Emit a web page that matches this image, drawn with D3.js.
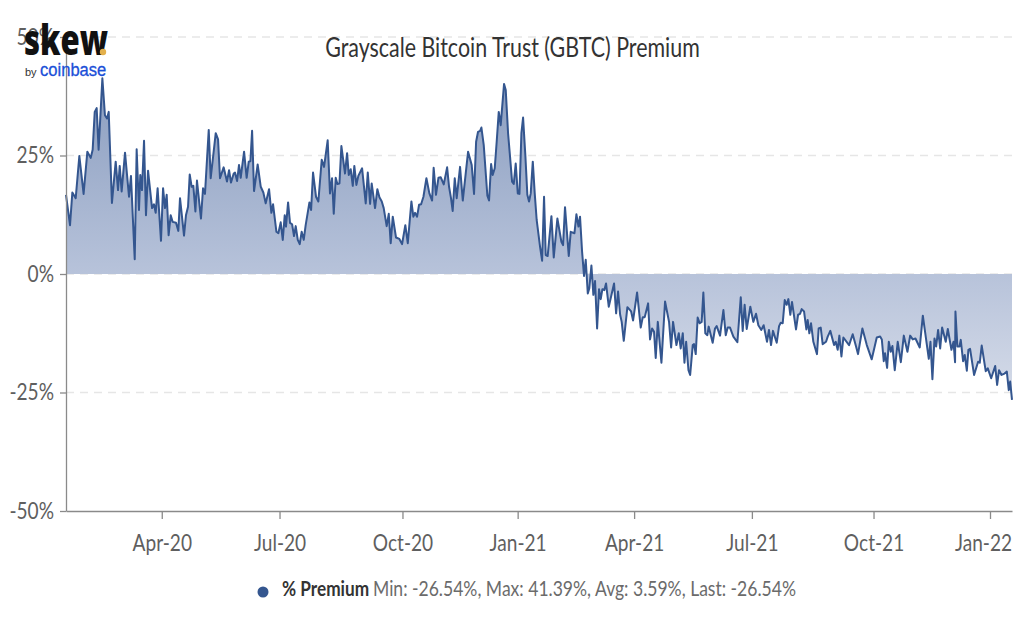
<!DOCTYPE html>
<html>
<head>
<meta charset="utf-8">
<script src="https://cdn.jsdelivr.net/npm/d3@7"></script>
<style>
  html, body { margin: 0; padding: 0; background: #fff; }
  svg { display: block; }
  text { font-family: Lato, sans-serif; }
</style>
</head>
<body>
<div id="chart"></div>
<script>
var svgWidth = 1024;
var svgHeight = 628;

var margin = { top: 37, right: 12, bottom: 117, left: 66 };

var width = svgWidth - margin.left - margin.right;
var height = svgHeight - margin.top - margin.bottom;

var startDate = "2020-01-18";
var endDate = "2022-01-18";

// days since startDate
var premiumDays = [
  0, 3.1, 4.9, 7.5, 10.3, 13.6, 16.5, 19.1, 20.6, 22.2, 23.7, 25.2, 28.1, 30.1, 31.7, 33, 35.5, 38.4, 40.2, 41.5,
  43, 45.6, 48.7, 50.2, 53.1, 54.6, 56.4, 57.4, 58.7, 60.3, 61.8, 63.4, 66.5, 68, 69.3, 70.8, 73.4, 75, 76.5, 77.8,
  79.3, 80.9, 82.4, 85, 86.8, 88.1, 91.2, 92.7, 94.3, 95.6, 97.1, 98.4, 100, 101.2, 104.3, 105.9, 107.4, 110.3, 111.8, 115.7,
  117.5, 119, 121.8, 124.4, 126, 127.5, 129.6, 130.6, 132.2, 133.7, 135, 137.6, 139.6, 141.2, 142.5, 143.8, 145.3, 148.1, 150.5, 152.5,
  154.3, 156.9, 158.7, 160, 162.6, 164.1, 165.9, 167.5, 169, 170, 171.6, 173.1, 174.7, 176.2, 177.5, 179.1, 180.6, 182.1, 183.7, 185.2,
  188.1, 189.4, 190.9, 193.2, 195, 197.6, 199.4, 202.2, 204, 205.6, 206.9, 208.4, 209.7, 211.3, 212.8, 215.6, 217.2, 218.5, 220, 221.6,
  222.8, 224.4, 225.9, 228.8, 231.6, 233.2, 235, 236.2, 238.8, 240.6, 242.2, 244, 245.5, 247.8, 249.4, 250.9, 252.5, 255, 257.6, 259.7,
  262.2, 264.1, 266.9, 268.4, 269.7, 271.3, 272.8, 274.4, 276.2, 278.5, 280.8, 282.9, 284.1, 285.9, 287.8, 289.6, 291.9, 294.5, 296, 297.5,
  298.8, 300.4, 301.9, 304.5, 306.6, 310.7, 313.5, 315.3, 316.9, 318.4, 320, 321, 322.8, 325.6, 326.9, 328.5, 329.7, 331.3, 332.8, 334.4,
  335.9, 338.5, 339.8, 341.6, 343.1, 344.7, 346, 347.5, 349.1, 350.4, 351.9, 353.2, 355, 356.5, 357.8, 359.1, 360.7, 362.2, 363.7, 366.3,
  367.9, 369.4, 370.7, 372.2, 375.1, 376.9, 379.7, 382.8, 384.1, 385.6, 388.5, 390, 392.9, 394.4, 396, 397.2, 398.8, 400.3, 401.6, 403.2,
  404.4, 406, 407.5, 408.8, 410.4, 411.9, 413.2, 414.5, 416, 417.3, 419.4, 423.5, 425.1, 426.6, 428.2, 429.4, 431, 433.8, 436.7, 438.2,
  441.3, 444.1, 445.7, 447.2, 449.8, 451.3, 452.9, 454.4, 455.7, 457.3, 460.1, 462.9, 466, 467.6, 469.1, 471.7, 473.5, 475, 476.6, 477.9,
  479.2, 481, 482.3, 484.3, 485.3, 486.6, 488.1, 489.7, 491.2, 492.5, 494, 495.6, 496.6, 499.7, 501.5, 502.8, 505.4, 508, 509.8, 511.3,
  513.1, 515.7, 518.8, 521.4, 522.9, 524.4, 526, 528.8, 531.1, 533.2, 535, 537.3, 539.1, 541.7, 543.2, 544.8, 546.3, 549.2, 551, 552.3,
  553.8, 555.4, 556.9, 558.2, 559.7, 561, 564.1, 565.7, 567.2, 568.5, 570.3, 572.1, 573.1, 574.4, 575.7, 577.5, 580.3, 581.6, 583.2, 584.7,
  587.3, 588.6, 590.6, 593.5, 594.8, 596.3, 597.6, 599.2, 600.7, 605.1, 607.9, 610.5, 612, 615.4, 618.8, 622.6, 626.5, 629.1, 630.4, 631.9,
  632.9, 634.5, 635.8, 637.3, 638.6, 640.4, 642.7, 645.1, 647.4, 650.2, 652.3, 654.3, 656.4, 659.7, 662.1, 666.7, 668, 669.5, 671.1, 672.4,
  673.9, 675.5, 677, 679.8, 681.4, 684.2, 685.8, 687, 687.3, 688.8, 690.4, 691.4, 693.2, 694.5, 696.1, 697.3, 698.6, 701.7, 704.8, 706.1,
  707.6, 710.7, 712.3, 714.9, 718, 719.5, 721, 722.9, 725.2, 727, 728.5, 729.6, 731
];

// % premium at each of those days
var premiumValues = [
  16.7, 10.3, 17.2, 16, 24.9, 16.9, 25.8, 24.5, 26.2, 34.2, 35, 26.2, 41.3, 33.5, 32.8, 34.2, 15, 23.7, 17.7, 22.8,
  17.4, 25.6, 16.3, 20.7, 3.1, 26.3, 13.5, 20.9, 17.7, 28.1, 12.4, 21.8, 13.9, 14.7, 12.9, 18.1, 7, 18.1, 13.9, 16.7,
  8.2, 12.4, 11, 10.8, 9.1, 16, 8.1, 12.4, 14.2, 21, 18.4, 18.6, 13.2, 19.7, 11.7, 18.1, 16.9, 30.4, 20.2, 29.7,
  28.4, 20.2, 22.5, 19.5, 21.9, 19.3, 21.2, 21.4, 19.6, 23, 20.3, 25.8, 20.3, 23.7, 23.8, 30.2, 17.5, 23.1, 18.4, 17.2,
  14.9, 17.9, 12.9, 14.7, 8.9, 8.6, 10.9, 7.2, 12.4, 10, 15.1, 10.8, 10.5, 8, 10.1, 7.2, 6.3, 8.9, 7.2, 10.3,
  15.1, 13.5, 21.4, 16.3, 15.3, 24.1, 22.6, 28.2, 17, 20.2, 12.7, 20.3, 19, 19.1, 27, 21.2, 25.5, 20.9, 22.1, 18.6,
  22.8, 18.8, 20.7, 22.3, 14.9, 21.4, 14.8, 19.1, 13.9, 17.9, 16.2, 15.3, 13.9, 10.1, 12.7, 6.5, 12.1, 7.7, 7.4, 6.3,
  10.3, 6.5, 15.3, 12.1, 12.9, 12.1, 14.6, 14.7, 16.3, 20.2, 17, 15.5, 22.4, 16.7, 20.3, 20.4, 18.9, 22.5, 18.4, 16,
  13.3, 20.2, 16, 22.6, 15.5, 25.8, 23, 16.9, 27.9, 30, 30.2, 30.9, 27.2, 16.5, 15.5, 23.2, 20.9, 22.3, 27.9, 34.2,
  31.4, 40.1, 38.8, 29.7, 24.8, 19.5, 19, 23.3, 17, 16.9, 29.7, 33, 24.8, 16.7, 15.3, 17, 23.7, 17, 11.4, 5.8,
  2.8, 16.3, 4, 3.8, 12.2, 3.5, 11.7, 6.8, 6.1, 14.1, 3.8, 8.9, 8.6, 12.6, 10, 12.1, 4.7, -0.4, 3, -4.1,
  -3, 1.8, -4.4, -1.5, -11.5, -3.2, -5.3, -3.2, -3.4, -2, -6.9, -2, -8.3, -3.7, -8.6, -10.1, -14.1, -7, -7.9, -9.8,
  -3.9, -11.3, -9.1, -9.1, -6.2, -13.8, -11.5, -12.2, -17.7, -10.1, -18.7, -5.8, -10.1, -15.5, -10.1, -15, -12.5, -15.7, -12.5, -18.7,
  -14.3, -20.3, -21.3, -15, -14.8, -16.9, -9.2, -10.4, -10.1, -3.9, -12.5, -12.9, -11.1, -14.5, -11.5, -11, -13, -7.6, -12.9, -11.3,
  -11.3, -13.2, -14.4, -4.9, -12, -6.5, -11.6, -6.9, -10.1, -8.4, -10.8, -11.8, -10.8, -14.3, -11.8, -15, -12, -14.5, -11, -10.3,
  -10.4, -5.5, -6.5, -5.3, -8.6, -5.9, -11.7, -8.6, -8.4, -7.4, -7.9, -11.7, -9.7, -12.5, -10.4, -14.3, -16.9, -11.5, -11.3, -14.8,
  -14.3, -13.2, -12, -15, -14.3, -16, -13, -17.4, -13.4, -15, -12.7, -15.3, -16.9, -11.5, -15, -18, -13.4, -13.2, -13.8, -18.4,
  -16.7, -19.8, -14.3, -16.4, -15.2, -20.3, -14.3, -18.6, -13, -16.4, -13, -13.8, -13.6, -15.5, -8.8, -17.9, -14.3, -22.2, -13.6, -15.3,
  -11.8, -15.7, -11.3, -14.3, -11.6, -16, -14.3, -18.6, -7.9, -15.3, -15.3, -13.9, -18.4, -17.1, -20.4, -16, -15.8, -21.3, -18.5, -18.7,
  -15.1, -20.5, -19.9, -22, -19.4, -23.4, -20.3, -21.3, -21, -20.6, -24.5, -22.7, -26.54
];

var yTicks = [-50, -25, 0, 25, 50];
var xTickDates = ["2020-04-01", "2020-07-01", "2020-10-04", "2021-01-01", "2021-04-01", "2021-07-01", "2021-10-03", "2022-01-01"];
var xTickLabels = ["Apr-20", "Jul-20", "Oct-20", "Jan-21", "Apr-21", "Jul-21", "Oct-21", "Jan-22"];

var chartTitle = "Grayscale Bitcoin Trust (GBTC) Premium";
var legendName = "% Premium";
var legendStats = "Min: -26.54%, Max: 41.39%, Avg: 3.59%, Last: -26.54%";

var lineColor = "#34568f";

var svg = d3.select("#chart")
  .append("svg")
  .attr("width", svgWidth)
  .attr("height", svgHeight);

// the reference is squeezed sideways, so text gets narrowed to match
function squeeze(selection, factor) {
  selection.each(function() {
    d3.select(this)
      .attr("textLength", this.getComputedTextLength() * factor)
      .attr("lengthAdjust", "spacingAndGlyphs");
  });
}

var parseDate = d3.utcParse("%Y-%m-%d");

function dayToDate(d) {
  return new Date(parseDate(startDate).getTime() + d * 864e5);
}

var xScale = d3.scaleUtc()
  .domain([parseDate(startDate), parseDate(endDate)])
  .range([0, width]);

var yScale = d3.scaleLinear()
  .domain([-50, 50])
  .range([height, 0]);

var defs = svg.append("defs");
var gradient = defs.append("linearGradient")
  .attr("id", "premiumFill")
  .attr("gradientUnits", "userSpaceOnUse")
  .attr("x1", 0).attr("x2", 0)
  .attr("y1", yScale(42)).attr("y2", yScale(-27));
gradient.append("stop").attr("offset", "0%").attr("stop-color", "#8a9dbf");
gradient.append("stop").attr("offset", "58%").attr("stop-color", "#b5c1d9");
gradient.append("stop").attr("offset", "100%").attr("stop-color", "#d6dce9");

var chartGroup = svg.append("g")
  .attr("transform", `translate(${margin.left}, ${margin.top})`);

// gridlines
chartGroup.append("g")
  .selectAll("line")
  .data(yTicks.filter(d => d !== -50))
  .enter()
  .append("line")
  .attr("x1", 0)
  .attr("x2", width)
  .attr("y1", d => yScale(d))
  .attr("y2", d => yScale(d))
  .attr("stroke", "#e6e6e6")
  .attr("stroke-width", 1.5)
  .attr("stroke-dasharray", "8 6");

var area = d3.area()
  .x((d, i) => xScale(dayToDate(premiumDays[i])))
  .y0(yScale(0))
  .y1(d => yScale(d));

var line = d3.line()
  .x((d, i) => xScale(dayToDate(premiumDays[i])))
  .y(d => yScale(d));

chartGroup.append("path")
  .attr("d", area(premiumValues))
  .attr("fill", "url(#premiumFill)");

chartGroup.append("path")
  .attr("d", line(premiumValues))
  .attr("fill", "none")
  .attr("stroke", lineColor)
  .attr("stroke-width", 2)
  .attr("stroke-linejoin", "round");

// axes
var leftAxis = d3.axisLeft(yScale)
  .tickValues(yTicks)
  .tickFormat(d => d + "%")
  .tickSizeInner(6)
  .tickSizeOuter(0)
  .tickPadding(6);

var bottomAxis = d3.axisBottom(xScale)
  .tickValues(xTickDates.map(parseDate))
  .tickFormat((d, i) => xTickLabels[i])
  .tickSizeInner(8)
  .tickSizeOuter(0)
  .tickPadding(16);

var yAxis = chartGroup.append("g").call(leftAxis);
var xAxis = chartGroup.append("g")
  .attr("transform", `translate(0, ${height})`)
  .call(bottomAxis);

[yAxis, xAxis].forEach(function(axis) {
  axis.selectAll("path, line").attr("stroke", "#8a8a8a").attr("stroke-width", 1.3);
  axis.selectAll("text")
    .attr("fill", "#5f5f5f")
    .style("font-family", "Lato, sans-serif")
    .style("font-size", "23px")
    .call(squeeze, 0.83);
});

// last label is pulled in so it stays inside the plot edge
xAxis.selectAll(".tick:last-of-type text").attr("x", -7);

// title
svg.append("text")
  .attr("x", 512.5)
  .attr("y", 57)
  .attr("text-anchor", "middle")
  .attr("fill", "#333")
  .style("font-size", "26px")
  .text(chartTitle)
  .call(squeeze, 0.823);

// legend
svg.append("circle")
  .attr("cx", 263)
  .attr("cy", 592)
  .attr("r", 5.5)
  .attr("fill", lineColor);

svg.append("text")
  .attr("x", 282)
  .attr("y", 596)
  .attr("fill", "#333")
  .style("font-size", "21px")
  .style("font-weight", 700)
  .text(legendName)
  .call(squeeze, 0.82);

svg.append("text")
  .attr("x", 373)
  .attr("y", 596)
  .attr("fill", "#6b6b6b")
  .style("font-size", "21px")
  .text(legendStats)
  .call(squeeze, 0.835);

// logo
var logo = svg.append("g");

logo.append("text")
  .attr("x", 24)
  .attr("y", 55)
  .attr("fill", "#111")
  .style("font-family", "'Open Sans', sans-serif")
  .style("font-weight", 800)
  .style("font-size", "42px")
  .text("skew")
  .call(squeeze, 0.74);

logo.append("circle")
  .attr("cx", 103)
  .attr("cy", 52)
  .attr("r", 3.2)
  .attr("fill", "#e3b04b");

logo.append("text")
  .attr("x", 25)
  .attr("y", 76)
  .attr("fill", "#333")
  .style("font-family", "'Liberation Sans', sans-serif")
  .style("font-size", "11px")
  .text("by");

logo.append("text")
  .attr("x", 40)
  .attr("y", 76)
  .attr("fill", "#1a4fd8")
  .attr("stroke", "#1a4fd8")
  .attr("stroke-width", 0.3)
  .style("font-family", "'Liberation Sans', sans-serif")
  .style("font-size", "18px")
  .text("coinbase")
  .call(squeeze, 0.92);
</script>
</body>
</html>
